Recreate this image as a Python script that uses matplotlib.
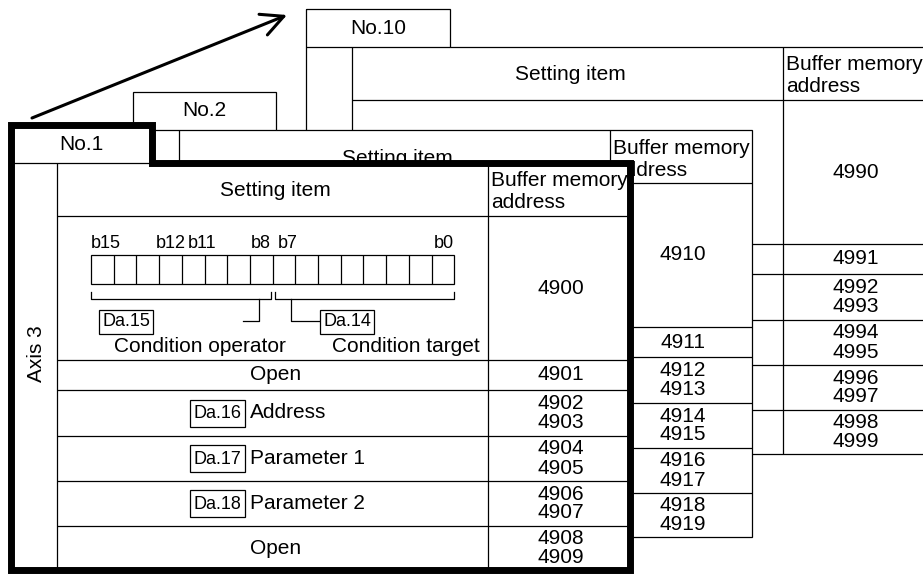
import matplotlib
matplotlib.use("Agg")
import matplotlib.pyplot as plt
from matplotlib.patches import Polygon, Rectangle

plt.rcParams["font.family"] = ["Liberation Sans", "DejaVu Sans"]

# ---- content ----
TABLES      = ["No.10", "No.2", "No.1"]            # drawn back to front
AXIS_LABEL  = "Axis 3"
HEAD_ITEM   = "Setting item"
HEAD_ADDR   = ["Buffer memory", "address"]
ROW_ITEMS   = [None, "Open", ("Da.16", "Address"), ("Da.17", "Parameter 1"),
               ("Da.18", "Parameter 2"), "Open"]
ADDR = {
    "No.1":  [["4900"], ["4901"], ["4902", "4903"], ["4904", "4905"], ["4906", "4907"], ["4908", "4909"]],
    "No.2":  [["4910"], ["4911"], ["4912", "4913"], ["4914", "4915"], ["4916", "4917"], ["4918", "4919"]],
    "No.10": [["4990"], ["4991"], ["4992", "4993"], ["4994", "4995"], ["4996", "4997"], ["4998", "4999"]],
}
N_BITS      = 16
BIT_LABELS  = ["b15", "b12", "b11", "b8", "b7", "b0"]
FIELD_IDS   = ["Da.15", "Da.14"]
FIELD_NAMES = ["Condition operator", "Condition target"]

# ---- layout (pixels) ----
W, H  = 923, 574
COLS  = [0, 46, 477, 619]
ROWS  = [0, 53, 197, 227, 273, 318, 363, 407]
TAB_H = 38
PLACE = {"No.10": (306, 47, 144), "No.2": (133, 130, 143), "No.1": (11, 163, 141)}
FS, FS_S = 15, 13
THIN, THICK = 0.9, 5.0


def hline(ax, x1, x2, y, z):
    ax.plot([x1, x2], [y, y], color="black", lw=THIN, zorder=z, solid_capstyle="butt")


def vline(ax, x, y1, y2, z):
    ax.plot([x, x], [y1, y2], color="black", lw=THIN, zorder=z, solid_capstyle="butt")


def txt(ax, x, y, s, z, fs=FS, ha="center", **kw):
    ax.text(x, y, s, fontsize=fs, ha=ha, va="center", zorder=z, **kw)


def draw_bits(ax, x0, rt, z):
    bx, cw = x0 + 80, 22.7
    top, bot = rt + 39, rt + 68
    ax.add_patch(Rectangle((bx, top), N_BITS * cw, bot - top, fill=False, ec="black", lw=THIN, zorder=z))
    for i in range(1, N_BITS):
        vline(ax, bx + i * cw, top, bot, z)
    spots = [(bx, "left"), (bx + 3.5 * cw, "center"), (bx + 97, "left"),
             (bx + 8 * cw - 2, "right"), (bx + 8 * cw + 5, "left"), (bx + 16 * cw, "right")]
    for lab, (x, ha) in zip(BIT_LABELS, spots):
        txt(ax, x, rt + 28, lab, z, fs=FS_S, ha=ha)
    # brackets under the two bytes
    by = rt + 83
    for a, b in [(bx, bx + 8 * cw - 2), (bx + 8 * cw + 2, bx + 16 * cw)]:
        ax.plot([a, a, b, b], [by - 7, by, by, by - 7], color="black", lw=THIN, zorder=z)
    ly = rt + 105
    ax.plot([bx + 168, bx + 168, bx + 152], [by, ly, ly], color="black", lw=THIN, zorder=z)
    ax.plot([bx + 200, bx + 200, bx + 229], [by, ly, ly], color="black", lw=THIN, zorder=z)
    for fid, fname, bxl, cx in zip(FIELD_IDS, FIELD_NAMES, [bx + 8, bx + 229], [bx + 109, bx + 315]):
        ax.add_patch(Rectangle((bxl, ly - 11), 54, 24, fc="white", ec="black", lw=THIN, zorder=z))
        txt(ax, bxl + 27, ly + 1, fid, z, fs=FS_S)
        txt(ax, cx, rt + 130, fname, z)


def draw_table(ax, name, z, front=False):
    x0, y0, tw = PLACE[name]
    xr, yb = x0 + COLS[-1], y0 + ROWS[-1]
    shape = [(x0, y0 - TAB_H), (x0 + tw, y0 - TAB_H), (x0 + tw, y0), (xr, y0), (xr, yb), (x0, yb)]
    ax.add_patch(Polygon(shape, closed=True, fc="white", ec="none", zorder=z))
    lz, tz = z + 0.1, z + 0.2
    ax.add_patch(Polygon(shape, closed=True, fill=False, ec="black",
                         lw=THICK if front else THIN, joinstyle="miter", zorder=z + 0.15))
    hline(ax, x0, x0 + tw, y0, lz)
    vline(ax, x0 + COLS[1], y0, yb, lz)
    vline(ax, x0 + COLS[2], y0, yb, lz)
    for r in ROWS[1:-1]:
        hline(ax, x0 + COLS[1], xr, y0 + r, lz)

    cx_item = x0 + (COLS[1] + COLS[2]) / 2 + 3
    cx_addr = x0 + (COLS[2] + COLS[3]) / 2 + 2
    txt(ax, x0 + tw / 2, y0 - TAB_H / 2, name, tz)
    txt(ax, cx_item, y0 + 28, HEAD_ITEM, tz)
    for k, s in enumerate(HEAD_ADDR):
        txt(ax, x0 + COLS[2] + 3, y0 + 18 + 22 * k, s, tz, ha="left")
    if front:
        txt(ax, x0 + COLS[1] / 2 + 3, y0 + 191, AXIS_LABEL, tz, rotation=90)

    for i, (item, addr) in enumerate(zip(ROW_ITEMS, ADDR[name])):
        rt, rb = y0 + ROWS[i + 1], y0 + ROWS[i + 2]
        cy = (rt + rb) / 2
        if len(addr) == 1:
            txt(ax, cx_addr, cy, addr[0], tz)
        else:
            txt(ax, cx_addr, cy - 9.5, addr[0], tz)
            txt(ax, cx_addr, cy + 9.5, addr[1], tz)
        if not front:
            continue  # item column of the back tables is covered by the front ones
        if item is None:
            draw_bits(ax, x0, rt, tz)
        elif isinstance(item, tuple):
            ax.add_patch(Rectangle((x0 + 179, cy - 13.5), 55, 27, fill=False, ec="black", lw=THIN, zorder=tz))
            txt(ax, x0 + 206.5, cy + 1, item[0], tz, fs=FS_S)
            txt(ax, x0 + 239, cy, item[1], tz, ha="left")
        else:
            txt(ax, cx_item, cy, item, tz)


fig = plt.figure(figsize=(W / 100, H / 100), dpi=100)
ax = fig.add_axes([0, 0, 1, 1])
ax.set_xlim(0, W)
ax.set_ylim(H, 0)
ax.axis("off")

for k, name in enumerate(TABLES):
    draw_table(ax, name, z=1 + k, front=(name == "No.1"))

# arrow from the first point table up to the last one
x1, y1, _ = PLACE["No.1"]
x10, y10, _ = PLACE["No.10"]
ax.annotate("", xy=(x10 - 19, y10 - TAB_H + 6), xytext=(x1 + 21, y1 - TAB_H - 7),
            arrowprops=dict(arrowstyle="->,head_length=0.8,head_width=0.4", lw=2.2, color="black",
                            shrinkA=0, shrinkB=0, mutation_scale=20), zorder=10)

fig.savefig("out.png", dpi=100, facecolor="white")
